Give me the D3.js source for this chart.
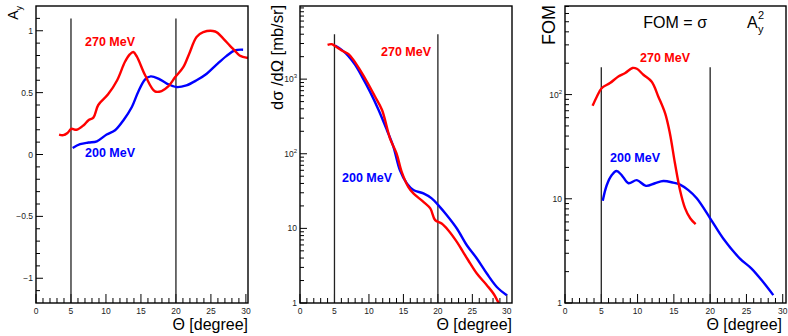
<!DOCTYPE html>
<html>
<head>
<meta charset="utf-8">
<script src="https://cdn.jsdelivr.net/npm/d3@7"></script>
<style>
body { margin: 0; background: #fff; }
text { font-family: "Liberation Sans", Arial, Helvetica, sans-serif; }
</style>
</head>
<body>
<div id="chart"></div>
<script>
// analyzing power A_y vs theta
var ayTheta270 = [3.3, 3.9, 4.5, 5.05, 5.8, 6.8, 7.5, 8.2, 8.9, 10.3, 11.6, 12.7, 13.4, 13.9, 14.4, 15.6, 17.0, 17.95, 18.9, 19.9, 21.05, 21.9, 22.95, 23.9, 25.6, 26.8, 27.7, 28.4, 29.1, 30.3];
var ay270 = [0.16, 0.156, 0.174, 0.207, 0.2, 0.236, 0.277, 0.298, 0.4, 0.486, 0.6, 0.747, 0.809, 0.828, 0.793, 0.64, 0.51, 0.513, 0.55, 0.626, 0.706, 0.815, 0.949, 0.989, 0.994, 0.935, 0.88, 0.84, 0.8, 0.78];
var ayTheta200 = [5.24, 6.3, 7.5, 8.7, 10.1, 11.3, 12.5, 13.7, 14.6, 15.6, 16.4, 17.5, 18.7, 20.1, 21.5, 22.95, 24.4, 25.8, 27.2, 28.4, 29.6];
var ay200 = [0.053, 0.083, 0.097, 0.107, 0.161, 0.196, 0.277, 0.384, 0.505, 0.607, 0.631, 0.613, 0.573, 0.545, 0.559, 0.6, 0.653, 0.726, 0.795, 0.841, 0.847];

// cross section [mb/sr]
var xsTheta270 = [4.0, 4.6, 5.2, 6.05, 7.0, 7.75, 8.7, 9.7, 10.9, 11.9, 13.05, 14.0, 14.75, 15.7, 16.45, 17.9, 18.9, 19.6, 20.55, 21.5, 22.75, 23.5, 24.4, 25.65, 27.1, 28.05, 29.0];
var xs270 = [2880, 2940, 2730, 2420, 2180, 1810, 1330, 930, 580, 386, 161, 101, 57, 36, 29.4, 22.7, 18.5, 12.9, 11.6, 9.46, 6.6, 5.1, 3.74, 2.48, 1.73, 1.34, 0.92];
var xsTheta200 = [5.08, 6.05, 7.0, 8.0, 8.95, 10.15, 11.4, 12.6, 13.55, 14.5, 15.5, 16.45, 17.9, 19.1, 20.05, 21.3, 22.75, 24.2, 25.65, 27.1, 28.55, 30.0];
var xs200 = [2820, 2470, 2050, 1550, 1100, 680, 386, 208, 124, 60, 40, 32.6, 29.4, 25.2, 20.5, 15, 9.97, 5.94, 3.95, 2.48, 1.64, 1.27];

// figure of merit
var fomTheta270 = [3.8, 4.4, 5.05, 6.2, 7.35, 8.3, 9.3, 9.9, 10.8, 11.95, 12.85, 13.8, 14.45, 15.15, 15.85, 16.55, 17.25, 18.0];
var fom270 = [78, 96, 115, 129, 149, 161, 180, 177, 155, 133, 96, 66, 42.6, 21.9, 12.1, 8.1, 6.5, 5.7];
var fomTheta200 = [5.2, 5.75, 6.45, 7.1, 7.8, 8.75, 9.9, 11.15, 12.4, 13.55, 14.9, 15.85, 17.0, 18.15, 20.0, 21.8, 24.1, 25.7, 27.3, 28.7];
var fom200 = [9.6, 13.5, 16.9, 18.5, 16.9, 14.1, 15.1, 13.3, 14.1, 14.8, 14.3, 13.7, 12.1, 10.1, 6.5, 4.16, 2.67, 2.14, 1.59, 1.19];

// tick labels and cut lines
var xTicks = [0, 5, 10, 15, 20, 25, 30];
var ayTicks = [-1, -0.5, 0, 0.5, 1];
var xsTicks = [1, 10, 100, 1000];
var fomTicks = [1, 10, 100];
var cutTheta = [5, 20];
var cutTop = [1.1, 4000, 183];

var svg = d3.select("#chart").append("svg")
    .attr("width", 788)
    .attr("height", 336);

var panels = [
    { id: 0, left: 36, right: 248, top: 6, bottom: 303, xMax: 30.3, log: false,
      y: d3.scaleLinear().domain([-1.2, 1.2]), ticks: ayTicks,
      red: [ayTheta270, ay270], blue: [ayTheta200, ay200],
      lab270: [85, 46], lab200: [85, 157] },
    { id: 1, left: 300, right: 512, top: 6, bottom: 303, xMax: 30.75, log: true,
      y: d3.scaleLog().domain([1, 9550]), ticks: xsTicks,
      red: [xsTheta270, xs270], blue: [xsTheta200, xs200],
      lab270: [381, 56], lab200: [342, 182] },
    { id: 2, left: 565, right: 786, top: 6, bottom: 303, xMax: 30.45, log: true,
      y: d3.scaleLog().domain([1, 708]), ticks: fomTicks,
      red: [fomTheta270, fom270], blue: [fomTheta200, fom200],
      lab270: [640, 62], lab200: [610, 162] }
];

panels.forEach(drawPanel);

function fmtLog(sel, v) {
    var e = Math.round(Math.log10(v));
    if (e <= 1) {
        sel.text(String(v));
    } else {
        sel.text("10");
        sel.append("tspan").attr("dy", -4).style("font-size", "6px").text(e);
    }
}

function drawPanel(p) {
    var x = d3.scaleLinear().domain([0, p.xMax]).range([p.left, p.right]);
    p.y.range([p.bottom, p.top]);
    var g = svg.append("g");

    g.append("clipPath").attr("id", "clip" + p.id)
        .append("rect")
        .attr("x", p.left).attr("y", p.top)
        .attr("width", p.right - p.left).attr("height", p.bottom - p.top);

    // x ticks
    var minorX = d3.range(0, p.xMax, 1);
    g.selectAll(".xt").data(minorX).enter().append("line")
        .attr("x1", function(d) { return x(d); })
        .attr("x2", function(d) { return x(d); })
        .attr("y1", p.bottom)
        .attr("y2", function(d) { return p.bottom - (d % 5 == 0 ? 9 : 5); })
        .style("stroke", "#000").style("stroke-width", 1);

    g.selectAll(".xl").data(xTicks).enter().append("text")
        .attr("x", function(d) { return x(d); })
        .attr("y", p.bottom + 10.5)
        .attr("text-anchor", "middle")
        .style("font-size", "8.5px").style("fill", "#222")
        .text(String);

    // y ticks
    var yMinor = [];
    if (p.log) {
        var top = p.y.domain()[1];
        for (var dec = 1; dec < top; dec *= 10) {
            for (var k = 1; k < 10; k++) {
                if (dec * k <= top) yMinor.push({ v: dec * k, major: k == 1 });
            }
        }
    } else {
        d3.range(-11, 12).forEach(function(i) {
            yMinor.push({ v: i / 10, major: i % 5 == 0 });
        });
    }
    g.selectAll(".yt").data(yMinor).enter().append("line")
        .attr("x1", p.left)
        .attr("x2", function(d) { return p.left + (d.major ? 7 : 4); })
        .attr("y1", function(d) { return p.y(d.v); })
        .attr("y2", function(d) { return p.y(d.v); })
        .style("stroke", "#000").style("stroke-width", 1);

    g.selectAll(".yl").data(p.ticks).enter().append("text")
        .attr("x", p.left - 3)
        .attr("y", function(d) { return p.y(d) + 3; })
        .attr("text-anchor", "end")
        .style("font-size", "8.5px").style("fill", "#222")
        .each(function(d) {
            var t = d3.select(this);
            if (p.log) fmtLog(t, d);
            else t.text(d < 0 ? "\u2212" + Math.abs(d) : String(d));
        });

    // cut lines
    g.selectAll(".cut").data(cutTheta).enter().append("line")
        .attr("x1", function(d) { return x(d); })
        .attr("x2", function(d) { return x(d); })
        .attr("y1", p.y(cutTop[p.id]))
        .attr("y2", p.bottom)
        .style("stroke", "#222").style("stroke-width", 1.3);

    // curves
    var line = d3.line()
        .x(function(d) { return x(d[0]); })
        .y(function(d) { return p.y(d[1]); })
        .curve(d3.curveCatmullRom.alpha(0.5));

    [[p.blue, "#0000ff"], [p.red, "#ff0000"]].forEach(function(s) {
        var pts = s[0][0].map(function(t, i) { return [t, s[0][1][i]]; });
        g.append("path")
            .attr("d", line(pts))
            .attr("clip-path", "url(#clip" + p.id + ")")
            .style("fill", "none")
            .style("stroke", s[1])
            .style("stroke-width", 2.4);
    });

    // frame
    g.append("rect")
        .attr("x", p.left).attr("y", p.top)
        .attr("width", p.right - p.left).attr("height", p.bottom - p.top)
        .style("fill", "none").style("stroke", "#000").style("stroke-width", 1.4);

    // energy labels
    g.append("text").attr("x", p.lab270[0]).attr("y", p.lab270[1])
        .style("font-size", "12.5px").style("font-weight", "bold").style("fill", "#ff0000")
        .text("270 MeV");
    g.append("text").attr("x", p.lab200[0]).attr("y", p.lab200[1])
        .style("font-size", "12.5px").style("font-weight", "bold").style("fill", "#0000ff")
        .text("200 MeV");

    // x title
    g.append("text")
        .attr("x", p.id == 2 ? 782 : p.right)
        .attr("y", 330)
        .attr("text-anchor", "end")
        .style("font-size", "16px")
        .text("\u0398 [degree]");
}

// y titles
var t1 = svg.append("text")
    .attr("transform", "translate(18,6) rotate(-90)")
    .attr("text-anchor", "end")
    .style("font-size", "14px");
t1.append("tspan").text("A");
t1.append("tspan").attr("dy", 4).style("font-size", "9px").text("y");

svg.append("text")
    .attr("transform", "translate(283,5) rotate(-90)")
    .attr("text-anchor", "end")
    .style("font-size", "16.5px")
    .text("d\u03c3 /d\u03a9 [mb/sr]");

svg.append("text")
    .attr("transform", "translate(555,5) rotate(-90)")
    .attr("text-anchor", "end")
    .style("font-size", "18px")
    .text("FOM");

// formula
svg.append("text").attr("x", 707).attr("y", 28)
    .attr("text-anchor", "end")
    .style("font-family", "'Liberation Sans Narrow', 'Liberation Sans', Arial, sans-serif")
    .style("font-size", "16px")
    .text("FOM = \u03c3");
svg.append("text").attr("x", 747).attr("y", 28)
    .style("font-family", "'Liberation Sans Narrow', 'Liberation Sans', Arial, sans-serif")
    .style("font-size", "16px").text("A");
svg.append("text").attr("x", 758).attr("y", 33)
    .style("font-size", "11px").text("y");
svg.append("text").attr("x", 758).attr("y", 19)
    .style("font-size", "11px").text("2");
</script>
</body>
</html>
